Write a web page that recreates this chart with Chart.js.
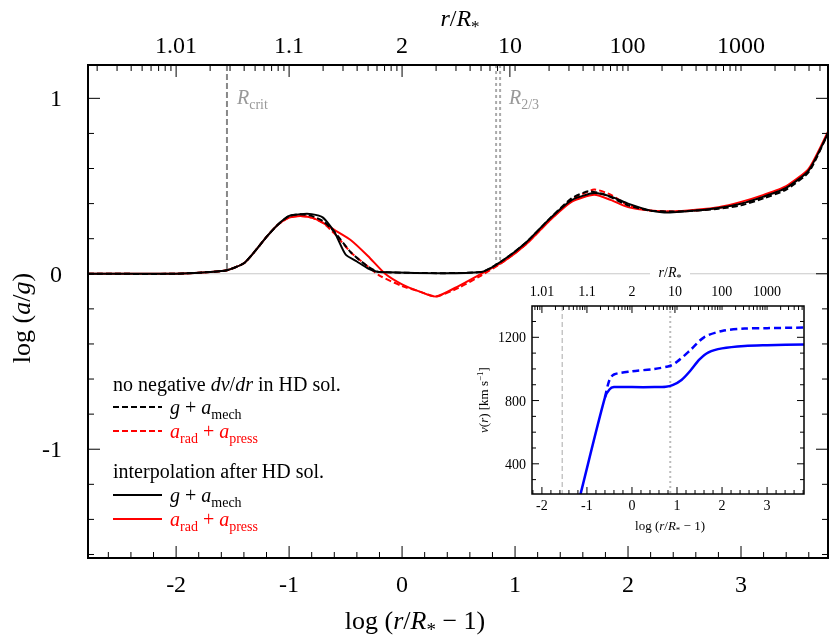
<!DOCTYPE html>
<html><head><meta charset="utf-8">
<script src="https://cdn.jsdelivr.net/npm/chart.js@4/dist/chart.umd.min.js"></script>
<style>
body{margin:0;background:#fff}
#wrap{position:relative;width:830px;height:641px}
#main{position:absolute;left:0;top:0}
#inset{position:absolute;left:470px;top:262px}
</style></head><body>
<div id="wrap"><canvas id="main" width="830" height="641"></canvas><canvas id="inset" width="350" height="285"></canvas></div>
<script>
// données : x = log(r/R* - 1)
const redSolidX = [-2.78,-2.0,-1.7,-1.55,-1.4,-1.3,-1.2,-1.1,-1.0,-0.9,-0.8,-0.7,-0.6,-0.45,-0.3,-0.15,0,0.15,0.3,0.5,0.7,0.9,1.1,1.3,1.5,1.7,1.85,2.0,2.2,2.4,2.6,2.8,3.0,3.2,3.4,3.6,3.77];
const redSolidY = [0,0,0.01,0.02,0.06,0.13,0.21,0.28,0.32,0.33,0.32,0.29,0.25,0.19,0.1,0.0,-0.06,-0.1,-0.13,-0.07,0.0,0.07,0.17,0.3,0.41,0.45,0.42,0.38,0.36,0.355,0.365,0.38,0.41,0.45,0.5,0.6,0.81];
const blackSolidX = [-2.78,-2.0,-1.7,-1.55,-1.4,-1.3,-1.2,-1.1,-1.0,-0.9,-0.8,-0.7,-0.6,-0.5,-0.4,-0.3,-0.2,0.7,0.9,1.1,1.3,1.5,1.7,1.85,2.0,2.2,2.3,2.4,2.6,2.8,3.0,3.2,3.4,3.6,3.77];
const blackSolidY = [0,0,0.01,0.02,0.06,0.13,0.21,0.28,0.33,0.34,0.34,0.32,0.24,0.11,0.07,0.03,0.01,0.01,0.08,0.18,0.31,0.42,0.46,0.44,0.4,0.36,0.35,0.35,0.36,0.375,0.4,0.44,0.49,0.59,0.8];
const blackDashX = [-2.78,-2.0,-1.7,-1.55,-1.4,-1.3,-1.2,-1.1,-1.0,-0.9,-0.8,-0.7,-0.6,-0.45,-0.3,-0.2,0.7,0.9,1.1,1.3,1.5,1.65,1.8,2.0,2.2,2.4,2.6,2.8,3.0,3.2,3.4,3.6,3.77];
const blackDashY = [0,0,0.01,0.02,0.06,0.13,0.21,0.28,0.33,0.34,0.33,0.3,0.24,0.12,0.04,0.01,0.01,0.08,0.18,0.31,0.43,0.47,0.45,0.39,0.36,0.355,0.36,0.37,0.39,0.43,0.48,0.58,0.8];
const redDashX = [-2.78,-2.0,-1.7,-1.55,-1.4,-1.3,-1.2,-1.1,-1.0,-0.9,-0.8,-0.7,-0.6,-0.45,-0.3,-0.2,0,0.15,0.3,0.5,0.7,0.9,1.1,1.3,1.5,1.7,1.85,2.0,2.2,2.4,2.6,2.8,3.0,3.2,3.4,3.6,3.77];
const redDashY = [0,0,0.01,0.02,0.06,0.13,0.21,0.28,0.32,0.33,0.32,0.29,0.23,0.12,0.04,-0.01,-0.07,-0.1,-0.13,-0.08,-0.01,0.07,0.17,0.3,0.42,0.48,0.45,0.39,0.36,0.355,0.36,0.375,0.4,0.44,0.49,0.59,0.8];
// encart : vitesse v(r) [km/s]
const velSolidX = [-1.15,-0.6,-0.5,-0.4,0,0.5,0.75,0.9,1.1,1.3,1.5,1.7,2.0,2.5,3.0,3.82];
const velSolidY = [200,820,870,885,885,885,887,897,930,990,1060,1105,1130,1145,1150,1155];
const velDashX = [-0.6,-0.5,-0.4,0,0.5,0.85,1.0,1.3,1.6,2.0,2.5,3.0,3.82];
const velDashY = [820,930,965,985,1000,1020,1045,1120,1200,1240,1255,1258,1262];
// repères verticaux
const rCritX = -1.55;
const r23X = 0.85;
const mainXTicks = [-2,-1,0,1,2,3];
const mainYTicks = [-1,0,1];
const insetYTicks = [400,800,1200];
const topLabels = ['1.01','1.1','2','10','100','1000'];
const topValues = [1.01,1.1,2,10,100,1000];

const SERIF = '"Liberation Serif", "DejaVu Serif", serif';
const pts = (xs, ys) => xs.map((x, i) => ({ x, y: ys[i] }));

// positions des graduations mineures du haut (r - 1 = k * 10^n)
function topMinor() {
  const out = [];
  for (let n = -3; n <= 4; n++) for (let k = 1; k <= 9; k++) out.push(Math.log10(k * Math.pow(10, n)));
  return out;
}

// texte enrichi : [texte, style] avec style '', 'i', 'sub', 'sup'
function rich(ctx, parts, x, y, size, align) {
  const small = st => st === 'sub' || st === 'sup';
  const font = st => (st === 'i' ? 'italic ' : '') + Math.round(small(st) ? size * 0.72 : size) + 'px ' + SERIF;
  let w = 0;
  parts.forEach(([t, st]) => { ctx.font = font(st); w += ctx.measureText(t).width; });
  let cx = align === 'center' ? x - w / 2 : x;
  parts.forEach(([t, st]) => {
    ctx.font = font(st);
    const dy = st === 'sub' ? size * 0.25 : st === 'sup' ? -size * 0.38 : 0;
    ctx.fillText(t, cx, y + dy);
    cx += ctx.measureText(t).width;
  });
  return w;
}

function inTicks(ctx, chart, s) {
  const a = chart.chartArea;
  const L = s.L, M = s.M;
  ctx.strokeStyle = '#000'; ctx.lineWidth = 1;
  const x = chart.scales.x, y = chart.scales.y;
  ctx.beginPath();
  for (let v = Math.ceil(x.min * 5) / 5; v <= x.max; v += 0.2) {
    const px = x.getPixelForValue(v), major = Math.abs(v - Math.round(v)) < 1e-6;
    ctx.moveTo(px, a.bottom); ctx.lineTo(px, a.bottom - (major ? L : M));
  }
  topMinor().forEach(v => {
    if (v < x.min || v > x.max) return;
    const px = x.getPixelForValue(v);
    const major = topValues.some(r => Math.abs(Math.log10(r - 1) - v) < 1e-6);
    ctx.moveTo(px, a.top); ctx.lineTo(px, a.top + (major ? L : M));
  });
  for (let v = Math.ceil(y.min / s.yStep) * s.yStep; v <= y.max; v += s.yStep) {
    const py = y.getPixelForValue(v), major = Math.abs(v / s.yMajor - Math.round(v / s.yMajor)) < 1e-6;
    const l = major ? L : M;
    ctx.moveTo(a.left, py); ctx.lineTo(a.left + l, py);
    ctx.moveTo(a.right, py); ctx.lineTo(a.right - l, py);
  }
  ctx.stroke();
  ctx.lineWidth = s.frame; ctx.strokeRect(a.left, a.top, a.right - a.left, a.bottom - a.top);
}

const mainDecor = {
  id: 'mainDecor',
  beforeDatasetsDraw(chart) {
    const ctx = chart.ctx, a = chart.chartArea, x = chart.scales.x, y = chart.scales.y;
    ctx.save();
    ctx.strokeStyle = '#c8c8c8'; ctx.lineWidth = 1;
    ctx.beginPath(); ctx.moveTo(a.left, y.getPixelForValue(0)); ctx.lineTo(a.right, y.getPixelForValue(0)); ctx.stroke();
    ctx.strokeStyle = '#888'; ctx.lineWidth = 2; ctx.setLineDash([6, 3]);
    ctx.beginPath(); ctx.moveTo(x.getPixelForValue(rCritX), a.top); ctx.lineTo(x.getPixelForValue(rCritX), y.getPixelForValue(0.02)); ctx.stroke();
    ctx.strokeStyle = '#aaa'; ctx.lineWidth = 2; ctx.setLineDash([3, 3]);
    [-2, 2].forEach(d => {
      ctx.beginPath(); ctx.moveTo(x.getPixelForValue(r23X) + d, a.top); ctx.lineTo(x.getPixelForValue(r23X) + d, y.getPixelForValue(0.05)); ctx.stroke();
    });
    ctx.restore();
  },
  afterDraw(chart) {
    const ctx = chart.ctx, a = chart.chartArea, x = chart.scales.x, y = chart.scales.y;
    ctx.save();
    inTicks(ctx, chart, { L: 12, M: 6, yStep: 0.2, yMajor: 1, frame: 2 });
    ctx.fillStyle = '#000'; ctx.textBaseline = 'alphabetic';
    ctx.font = '24px ' + SERIF; ctx.textAlign = 'center';
    mainXTicks.forEach(v => ctx.fillText(String(v), x.getPixelForValue(v), a.bottom + 34));
    topLabels.forEach((t, i) => ctx.fillText(t, x.getPixelForValue(Math.log10(topValues[i] - 1)), a.top - 12));
    ctx.textAlign = 'right';
    mainYTicks.forEach(v => ctx.fillText(String(v), a.left - 26, y.getPixelForValue(v) + 8));
    ctx.textAlign = 'left';
    rich(ctx, [['log (', ''], ['r', 'i'], ['/', ''], ['R', 'i'], ['*', 'sub'], [' − 1)', '']], 415, 629, 26, 'center');
    rich(ctx, [['r', 'i'], ['/', ''], ['R', 'i'], ['*', 'sub']], 460, 26, 24, 'center');
    ctx.save(); ctx.translate(30, 318); ctx.rotate(-Math.PI / 2);
    rich(ctx, [['log (', ''], ['a', 'i'], ['/', ''], ['g', 'i'], [')', '']], 0, 0, 26, 'center');
    ctx.restore();
    ctx.fillStyle = '#999';
    rich(ctx, [['R', 'i'], ['crit', 'sub']], 237, 104, 20, 'left');
    rich(ctx, [['R', 'i'], ['2/3', 'sub']], 509, 104, 20, 'left');
    // légende
    ctx.fillStyle = '#000';
    rich(ctx, [['no negative ', ''], ['dv', 'i'], ['/', ''], ['dr', 'i'], [' in HD sol.', '']], 113, 391, 20, 'left');
    rich(ctx, [['interpolation after HD sol.', '']], 113, 478, 20, 'left');
    const rows = [
      [412, '#000', [6, 3], [['g', 'i'], [' + ', ''], ['a', 'i'], ['mech', 'sub']]],
      [436, 'red', [6, 3], [['a', 'i'], ['rad', 'sub'], [' + ', ''], ['a', 'i'], ['press', 'sub']]],
      [500, '#000', [], [['g', 'i'], [' + ', ''], ['a', 'i'], ['mech', 'sub']]],
      [524, 'red', [], [['a', 'i'], ['rad', 'sub'], [' + ', ''], ['a', 'i'], ['press', 'sub']]]
    ];
    rows.forEach(([py, col, dash, txt]) => {
      ctx.strokeStyle = col; ctx.lineWidth = 2; ctx.setLineDash(dash);
      ctx.beginPath(); ctx.moveTo(113, py - 5); ctx.lineTo(162, py - 5); ctx.stroke();
      ctx.setLineDash([]); ctx.fillStyle = col;
      rich(ctx, txt, 170, py + 2, 20, 'left');
    });
    ctx.restore();
  }
};

const fixedAxes = (l, t, b) => ({
  x: { type: 'linear', afterFit: s => { s.height = b; }, ticks: { display: false }, grid: { display: false }, border: { display: false } },
  xTop: { type: 'linear', position: 'top', afterFit: s => { s.height = t; }, ticks: { display: false }, grid: { display: false }, border: { display: false } },
  y: { type: 'linear', afterFit: s => { s.width = l; }, ticks: { display: false }, grid: { display: false }, border: { display: false } }
});

const mainScales = fixedAxes(88, 65, 83);
mainScales.x.min = -2.78; mainScales.x.max = 3.77;
mainScales.y.min = -1.62; mainScales.y.max = 1.19;

const ds = (xs, ys, col, dash) => ({ data: pts(xs, ys), borderColor: col, borderDash: dash, borderWidth: 2, pointRadius: 0, tension: 0.2, fill: false });

new Chart(document.getElementById('main'), {
  type: 'line',
  data: { datasets: [
    ds(blackDashX, blackDashY, '#000', [6, 3]),
    ds(blackSolidX, blackSolidY, '#000', []),
    ds(redDashX, redDashY, 'red', [6, 3]),
    ds(redSolidX, redSolidY, 'red', [])
  ] },
  options: {
    responsive: false, animation: false,
    layout: { padding: { right: 2, top: 0 } },
    plugins: { legend: { display: false }, tooltip: { enabled: false } },
    scales: mainScales
  },
  plugins: [mainDecor]
});

// encart : canvas à (470,262), zone de tracé 532-804 x 306-492
const insetDecor = {
  id: 'insetDecor',
  beforeDraw(chart) {
    const ctx = chart.ctx;
    ctx.save(); ctx.fillStyle = '#fff';
    ctx.fillRect(180, 2, 40, 18);
    ctx.restore();
  },
  beforeDatasetsDraw(chart) {
    const ctx = chart.ctx, a = chart.chartArea, x = chart.scales.x;
    ctx.save(); ctx.lineWidth = 1;
    ctx.strokeStyle = '#aaa'; ctx.setLineDash([5, 3]);
    ctx.beginPath(); ctx.moveTo(x.getPixelForValue(rCritX), a.top); ctx.lineTo(x.getPixelForValue(rCritX), a.bottom); ctx.stroke();
    ctx.strokeStyle = '#bbb'; ctx.lineWidth = 2; ctx.setLineDash([2, 3]);
    ctx.beginPath(); ctx.moveTo(x.getPixelForValue(r23X), a.top); ctx.lineTo(x.getPixelForValue(r23X), a.bottom); ctx.stroke();
    ctx.restore();
  },
  afterDraw(chart) {
    const ctx = chart.ctx, a = chart.chartArea, x = chart.scales.x, y = chart.scales.y;
    ctx.save();
    inTicks(ctx, chart, { L: 7, M: 4, yStep: 100, yMajor: 400, frame: 1.5 });
    ctx.fillStyle = '#000'; ctx.font = '14px ' + SERIF; ctx.textAlign = 'center';
    mainXTicks.forEach(v => ctx.fillText(String(v), x.getPixelForValue(v), a.bottom + 16));
    topLabels.forEach((t, i) => ctx.fillText(t, x.getPixelForValue(Math.log10(topValues[i] - 1)), a.top - 10));
    ctx.textAlign = 'right';
    insetYTicks.forEach(v => ctx.fillText(String(v), a.left - 6, y.getPixelForValue(v) + 5));
    ctx.textAlign = 'left';
    rich(ctx, [['r', 'i'], ['/', ''], ['R', 'i'], ['*', 'sub']], 200, 15, 14, 'center');
    rich(ctx, [['log (', ''], ['r', 'i'], ['/', ''], ['R', 'i'], ['*', 'sub'], [' − 1)', '']], 200, a.bottom + 36, 13, 'center');
    ctx.save(); ctx.translate(18, (a.top + a.bottom) / 2); ctx.rotate(-Math.PI / 2);
    rich(ctx, [['v', 'i'], ['(', ''], ['r', 'i'], [') [km s', ''], ['−1', 'sup'], [']', '']], 0, 0, 13, 'center');
    ctx.restore();
    ctx.restore();
  }
};

const insetScales = fixedAxes(62, 44, 53);
insetScales.x.min = -2.22; insetScales.x.max = 3.82;
insetScales.y.min = 209; insetScales.y.max = 1398;

new Chart(document.getElementById('inset'), {
  type: 'line',
  data: { datasets: [
    { data: pts(velDashX, velDashY), borderColor: '#0000ff', borderDash: [7, 4], borderWidth: 2.5, pointRadius: 0, tension: 0.3 },
    { data: pts(velSolidX, velSolidY), borderColor: '#0000ff', borderWidth: 2.5, pointRadius: 0, tension: 0.3 }
  ] },
  options: {
    responsive: false, animation: false,
    layout: { padding: { right: 16 } },
    plugins: { legend: { display: false }, tooltip: { enabled: false } },
    scales: insetScales
  },
  plugins: [insetDecor]
});
</script>
</body></html>
